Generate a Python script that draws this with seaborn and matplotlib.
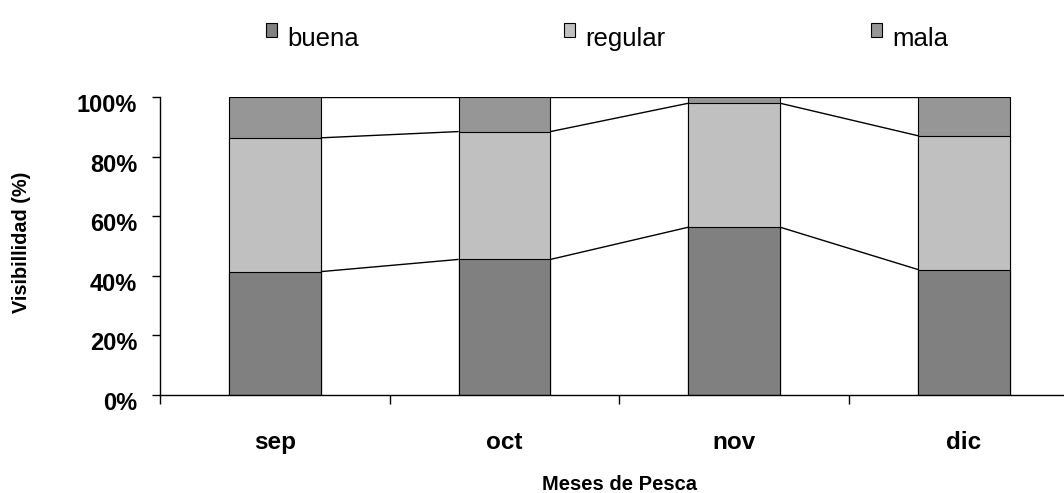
import numpy as np
import matplotlib
matplotlib.use("Agg")
import matplotlib.pyplot as plt
import matplotlib.transforms as mtransforms
from matplotlib.patches import Patch
import seaborn as sns

# ---- data (percent) ----
months = ["sep", "oct", "nov", "dic"]
buena = [41.4, 45.5, 56.3, 42.1]
regular = [44.9, 42.9, 41.6, 44.9]
mala = [13.7, 11.6, 2.1, 13.0]
series_names = ["buena", "regular", "mala"]
series_colors = ["#808080", "#C0C0C0", "#969696"]
ytick_vals = [0, 20, 40, 60, 80, 100]
ytick_labels = ["0%", "20%", "40%", "60%", "80%", "100%"]

sns.set_style("white")
plt.rcParams["font.family"] = ["Liberation Sans", "DejaVu Sans"]
plt.rcParams["text.color"] = "black"
plt.rcParams["axes.labelcolor"] = "black"
plt.rcParams["xtick.color"] = "black"
plt.rcParams["ytick.color"] = "black"

W, H, DPI = 1064, 493, 100
fig = plt.figure(figsize=(W / DPI, H / DPI), dpi=DPI)
ax_left, ax_bottom = 160, 98
ax_w, ax_h = 918.8, 298
ax = fig.add_axes([ax_left / W, ax_bottom / H, ax_w / W, ax_h / H])

vals = np.array([buena, regular, mala])
cum = np.cumsum(vals, axis=0)  # cumulative tops for each series

bar_w = 0.4
# draw from the top series down so stacks overlap correctly
for k in range(len(series_names) - 1, -1, -1):
    sns.barplot(x=months, y=cum[k], order=months, color=series_colors[k],
                saturation=1, width=bar_w, edgecolor="black", linewidth=0.8,
                ax=ax, zorder=2)

# series lines connecting the stacked segment tops
for k in range(len(series_names)):
    for i in range(len(months) - 1):
        ax.plot([i + bar_w / 2, i + 1 - bar_w / 2], [cum[k][i], cum[k][i + 1]],
                color="black", linewidth=1.0, zorder=3, solid_capstyle="butt")

ax.set_xlim(-0.5, len(months) - 0.5)
ax.set_ylim(0, 100)

# spines
for s in ["top", "right"]:
    ax.spines[s].set_visible(False)
for s in ["left", "bottom"]:
    ax.spines[s].set_color("black")
    ax.spines[s].set_linewidth(1.0)

# y ticks
ax.set_yticks(ytick_vals)
ax.set_yticklabels(ytick_labels, fontsize=17, fontweight="bold", color="black")
ax.tick_params(axis="y", which="major", direction="out", length=5.8, width=1.0,
               color="black", pad=10.5, left=True)
offset = mtransforms.ScaledTranslation(0, -6 / DPI, fig.dpi_scale_trans)
for lab in ax.get_yticklabels():
    lab.set_transform(lab.get_transform() + offset)

# x ticks: labels at centres, tick marks at category boundaries
ax.set_xticks(range(len(months)))
ax.set_xticklabels(months, fontsize=17.5, fontweight="bold", color="black")
ax.set_xticks(np.arange(-0.5, len(months), 1.0), minor=True)
ax.tick_params(axis="x", which="major", length=0, pad=26)
ax.tick_params(axis="x", which="minor", direction="out", length=6.5, width=1.0,
               color="black", bottom=True)

ax.set_xlabel("Meses de Pesca", fontsize=14.5, fontweight="bold", va="top",
              color="black")
ax.xaxis.set_label_coords(0.5, (395 - 475) / ax_h)
ax.set_ylabel("Visibillidad (%)", fontsize=14.3, fontweight="bold", color="black")
ax.yaxis.set_label_coords((31 - ax_left) / ax_w, 0.512)

ax.grid(False)

handles = [Patch(facecolor=c, edgecolor="black", linewidth=0.8) for c in series_colors]
leg = fig.legend(handles, series_names, loc="center",
                 bbox_to_anchor=(607 / W, 1 - 39 / H),
                 ncol=3, frameon=False, fontsize=18.5, handlelength=0.43,
                 handleheight=0.43, handletextpad=0.39, columnspacing=8.0,
                 borderpad=0)
# raise the legend squares a little, as in the reference
for p in leg.get_patches():
    p.set_y(p.get_y() + 5)

fig.savefig("out.png", dpi=DPI)
